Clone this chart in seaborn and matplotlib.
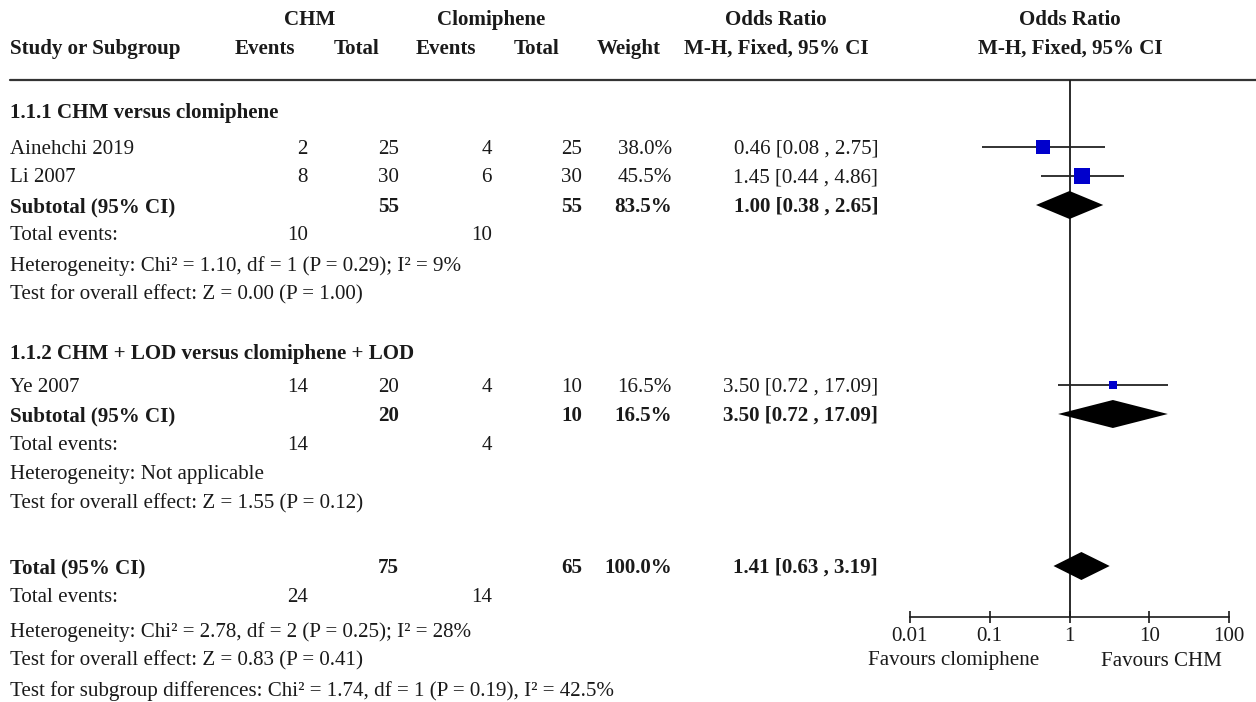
import numpy as np
import pandas as pd
import seaborn as sns
import matplotlib.pyplot as plt

# Study data
studies = ["Ainehchi 2019", "Li 2007", "Ye 2007"]
subgroup = ["1.1.1", "1.1.1", "1.1.2"]
chm_events = [2, 8, 14]
chm_total = [25, 30, 20]
clo_events = [4, 6, 4]
clo_total = [25, 30, 10]
weights = [38.0, 45.5, 16.5]
odds = [0.46, 1.45, 3.50]
ci_low = [0.08, 0.44, 0.72]
ci_high = [2.75, 4.86, 17.09]

# Subtotals / total
sub_names = ["1.1.1 CHM versus clomiphene", "1.1.2 CHM + LOD versus clomiphene + LOD"]
sub_chm_total = [55, 20]
sub_clo_total = [55, 10]
sub_weight = [83.5, 16.5]
sub_odds = [1.00, 3.50]
sub_low = [0.38, 0.72]
sub_high = [2.65, 17.09]
sub_chm_events = [10, 14]
sub_clo_events = [10, 4]
sub_het = ["Heterogeneity: Chi\u00b2 = 1.10, df = 1 (P = 0.29); I\u00b2 = 9%",
           "Heterogeneity: Not applicable"]
sub_test = ["Test for overall effect: Z = 0.00 (P = 1.00)",
            "Test for overall effect: Z = 1.55 (P = 0.12)"]

tot_chm_total, tot_clo_total = 75, 65
tot_odds, tot_low, tot_high = 1.41, 0.63, 3.19
tot_chm_events, tot_clo_events = 24, 14
tot_het = "Heterogeneity: Chi\u00b2 = 2.78, df = 2 (P = 0.25); I\u00b2 = 28%"
tot_test = "Test for overall effect: Z = 0.83 (P = 0.41)"
tot_sub = "Test for subgroup differences: Chi\u00b2 = 1.74, df = 1 (P = 0.19), I\u00b2 = 42.5%"

tick_vals = [0.01, 0.1, 1, 10, 100]
tick_labels = ["0.01", "0.1", "1", "10", "100"]

sns.set_theme(style="white")
plt.rcParams['font.family'] = ['Liberation Serif', 'DejaVu Serif']
FS = 15.1
INK = '#1a1a1a'

W, H = 1256, 702
fig = plt.figure(figsize=(W / 100, H / 100), dpi=100)
ax = fig.add_axes([0, 0, 1, 1])
ax.set_xlim(0, W)
ax.set_ylim(H, 0)
ax.axis('off')

# row layout (pixel rows)
study_y = [147, 176, 385]
sub_head_y = [111, 352]
sub_y = [205, 414]
sub_ev_y = [234, 443]
sub_het_y = [264, 472]
sub_test_y = [293, 502]
tot_y, tot_ev_y, tot_het_y, tot_test_y, tot_sub_y = 566, 595, 630, 659, 689

col_r = [308, 399, 492, 582, 672, 878]
col_c = [265, 357, 446, 537, 629, 776]
LX = 10


def txt(x, y, s, ha='left', bold=False):
    ax.text(x, y + 2, s, ha=ha, va='center', fontsize=FS,
            fontweight='bold' if bold else 'normal', color=INK)


# header
txt(310, 18, "CHM", 'center', True)
txt(491, 18, "Clomiphene", 'center', True)
txt(776, 18, "Odds Ratio", 'center', True)
txt(1070, 18, "Odds Ratio", 'center', True)
txt(LX, 47, "Study or Subgroup", bold=True)
for c, s in zip(col_c, ["Events", "Total", "Events", "Total", "Weight", "M-H, Fixed, 95% CI"]):
    txt(c, 47, s, 'center', True)
txt(1070, 47, "M-H, Fixed, 95% CI", 'center', True)
ax.plot([LX, W], [80, 80], color='#333333', lw=1.6)

# studies
for i, y in enumerate(study_y):
    txt(LX, y, studies[i])
    vals = [chm_events[i], chm_total[i], clo_events[i], clo_total[i],
            f"{weights[i]:.1f}%", f"{odds[i]:.2f} [{ci_low[i]:.2f} , {ci_high[i]:.2f}]"]
    for r, v in zip(col_r, vals):
        txt(r, y, str(v), 'right')

# subgroups
for j in range(2):
    txt(LX, sub_head_y[j], sub_names[j], bold=True)
    txt(LX, sub_y[j], "Subtotal (95% CI)", bold=True)
    txt(col_r[1], sub_y[j], str(sub_chm_total[j]), 'right', True)
    txt(col_r[3], sub_y[j], str(sub_clo_total[j]), 'right', True)
    txt(col_r[4], sub_y[j], f"{sub_weight[j]:.1f}%", 'right', True)
    txt(col_r[5], sub_y[j], f"{sub_odds[j]:.2f} [{sub_low[j]:.2f} , {sub_high[j]:.2f}]", 'right', True)
    txt(LX, sub_ev_y[j], "Total events:")
    txt(col_r[0], sub_ev_y[j], str(sub_chm_events[j]), 'right')
    txt(col_r[2], sub_ev_y[j], str(sub_clo_events[j]), 'right')
    txt(LX, sub_het_y[j], sub_het[j])
    txt(LX, sub_test_y[j], sub_test[j])

# total
txt(LX, tot_y, "Total (95% CI)", bold=True)
txt(col_r[1], tot_y, str(tot_chm_total), 'right', True)
txt(col_r[3], tot_y, str(tot_clo_total), 'right', True)
txt(col_r[4], tot_y, "100.0%", 'right', True)
txt(col_r[5], tot_y, f"{tot_odds:.2f} [{tot_low:.2f} , {tot_high:.2f}]", 'right', True)
txt(LX, tot_ev_y, "Total events:")
txt(col_r[0], tot_ev_y, str(tot_chm_events), 'right')
txt(col_r[2], tot_ev_y, str(tot_clo_events), 'right')
txt(LX, tot_het_y, tot_het)
txt(LX, tot_test_y, tot_test)
txt(LX, tot_sub_y, tot_sub)

# forest panel: x log scale, y in the same pixel rows
fx0, fx1, fy0, fy1 = 880, W, 80, 620
fax = fig.add_axes([fx0 / W, 1 - fy1 / H, (fx1 - fx0) / W, (fy1 - fy0) / H])
fax.patch.set_alpha(0)
fax.set_xscale('log')
dec = (1229 - 910) / 4
fax.set_xlim(10 ** (-2 - (910 - fx0) / dec), 10 ** (2 + (fx1 - 1229) / dec))
fax.set_ylim(fy1, fy0)
for s in ['top', 'left', 'right']:
    fax.spines[s].set_visible(False)
axis_y = 617
fax.spines['bottom'].set_position(('data', axis_y))
fax.spines['bottom'].set_bounds(0.01, 100)
fax.spines['bottom'].set_color(INK)
fax.spines['bottom'].set_linewidth(1.2)
fax.set_xticks(tick_vals)
fax.set_xticklabels(tick_labels)
fax.minorticks_off()
fax.tick_params(axis='x', direction='inout', length=8, width=1.2, color=INK,
                labelsize=FS, pad=3, labelcolor=INK, bottom=True)
fax.set_yticks([])

fax.vlines(1, fy0, axis_y, color=INK, lw=1.3)

df = pd.DataFrame({"study": studies, "odds": odds, "y": study_y, "weight": weights,
                   "lo": ci_low, "hi": ci_high})
fax.hlines(df["y"], df["lo"], df["hi"], color='#222222', lw=1.3, zorder=2)
size_map = {w: (0.3 * w + 2.5) ** 2 * 0.72 ** 2 for w in weights}
sns.scatterplot(data=df, x="odds", y="y", size="weight", sizes=size_map, marker='s',
                color='#0000CC', linewidth=0, legend=False, ax=fax, zorder=3)

half_h = 14
for o, lo, hi, y in zip(sub_odds + [tot_odds], sub_low + [tot_low],
                        sub_high + [tot_high], sub_y + [tot_y]):
    fax.fill([lo, o, hi, o], [y, y - half_h, y, y + half_h], color='black', zorder=4, lw=0)

fax.set_xlabel("")
fax.set_ylabel("")
ax.text(954, 661, "Favours clomiphene", ha='center', va='center', fontsize=FS, color=INK)
ax.text(1161, 661, "Favours CHM", ha='center', va='center', fontsize=FS, color=INK)

fig.savefig("out.png", dpi=100)
